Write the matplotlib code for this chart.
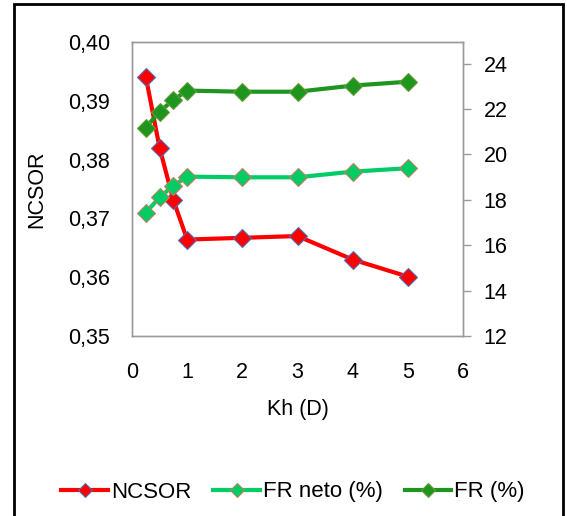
import matplotlib
matplotlib.use('Agg')
import matplotlib.pyplot as plt
from matplotlib.patches import Rectangle

plt.rcParams['font.family'] = ['Liberation Sans', 'DejaVu Sans']

# data
kh = [0.25, 0.5, 0.75, 1, 2, 3, 4, 5]
ncsor = [0.3941, 0.3820, 0.3731, 0.3664, 0.3667, 0.3670, 0.3630, 0.3601]
fr_neto = [17.43, 18.11, 18.62, 19.02, 18.99, 18.99, 19.24, 19.39]
fr = [21.18, 21.88, 22.40, 22.81, 22.76, 22.76, 23.03, 23.20]

left_ticks = [0.35, 0.36, 0.37, 0.38, 0.39, 0.40]
right_ticks = [12, 14, 16, 18, 20, 22, 24]
x_ticks = [0, 1, 2, 3, 4, 5, 6]

RED = '#FF0000'
LGREEN = '#00CC66'
DGREEN = '#1E951E'
GRAY = '#9A9A9A'
FS = 15.5

fig = plt.figure(figsize=(5.67, 5.16), dpi=100)
ax = fig.add_axes([132 / 567, 1 - 336 / 516, (463 - 132) / 567, (336 - 42) / 516])
ax2 = ax.twinx()

ax.plot(kh, ncsor, color=RED, lw=3, marker='D', ms=9.5, mfc=RED, mec='#4F6FB8', mew=0.8,
        label='NCSOR', zorder=3)
l2, = ax2.plot(kh, fr_neto, color=LGREEN, lw=3, marker='D', ms=9.5, mfc=LGREEN, mec='#C0805A',
               mew=0.8, label='FR neto (%)')
l3, = ax2.plot(kh, fr, color=DGREEN, lw=3, marker='D', ms=9.5, mfc=DGREEN, mec='#6A9A3A',
               mew=0.8, label='FR (%)')

ax.set_xlim(0, 6)
ax.set_ylim(0.35, 0.40)
ax2.set_ylim(12, 24.95)
ax.set_xticks(x_ticks)
ax.set_yticks(left_ticks)
ax.set_yticklabels([('%.2f' % v).replace('.', ',') for v in left_ticks])
ax2.set_yticks(right_ticks)

for a in (ax, ax2):
    for s in a.spines.values():
        s.set_color(GRAY)
        s.set_linewidth(1)
ax.tick_params(axis='y', length=0, labelsize=FS, pad=16)
ax.tick_params(axis='x', length=0, labelsize=FS, pad=19)
ax2.tick_params(axis='y', length=6, color=GRAY, width=1, labelsize=FS, pad=9)

ax.set_ylabel('NCSOR', fontsize=FS, labelpad=15)
ax.set_xlabel('Kh (D)', fontsize=FS, labelpad=11)

h1, lab1 = ax.get_legend_handles_labels()
fig.legend(h1 + [l2, l3], lab1 + ['FR neto (%)', 'FR (%)'], loc='center',
           bbox_to_anchor=(293 / 567, 1 - 492 / 516), ncol=3, frameon=False,
           fontsize=16, handlelength=2.1, handletextpad=0.12, columnspacing=1.0,
           markerscale=0.75)

# outer border
fig.patches.append(Rectangle((14 / 567, -0.02), (563 - 14) / 567, (1 - 4 / 516) + 0.02,
                             transform=fig.transFigure, fill=False, ec='black', lw=2))

fig.savefig('out.png', dpi=100)
